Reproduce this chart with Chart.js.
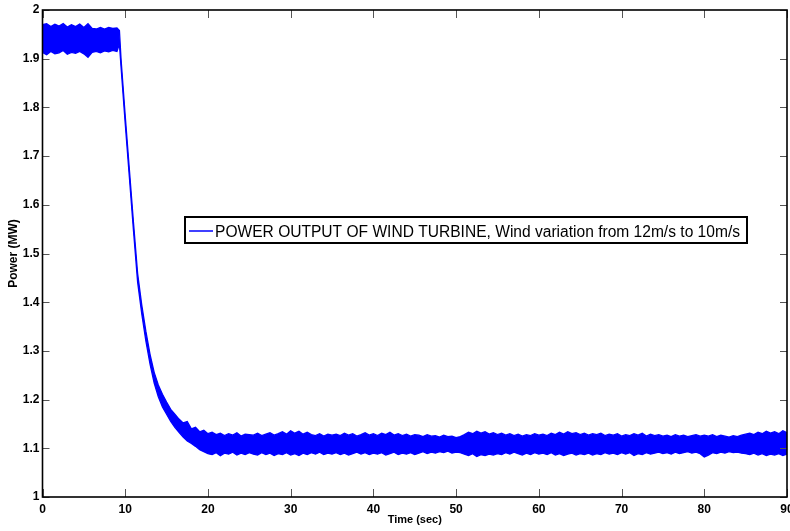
<!DOCTYPE html>
<html>
<head>
<meta charset="utf-8">
<script src="https://cdn.jsdelivr.net/npm/chart.js@4.4.0/dist/chart.umd.min.js"></script>
<style>
  body { margin: 0; background: #fff; }
  #wrap { width: 790px; height: 531px; }
</style>
</head>
<body>
<div id="wrap"><canvas id="myChart" width="790" height="531"></canvas></div>
<script>
// time points (sec)
var times = [
  0,0.5,1,1.5,2,2.5,3,3.5,4,4.5,5,5.5,6,6.5,7,7.5,8,8.5,9,9.3,9.5,
  10,10.5,11,11.5,12,12.5,13,13.5,14,14.5,15,15.5,16,16.5,17,17.5,18,18.5,19,19.5,20,
  20.5,21,21.5,22,22.5,23,23.5,24,24.5,25,
  25.5,26,26.5,27,27.5,28,28.5,29,29.5,30,
  30.5,31,31.5,32,32.5,33,33.5,34,34.5,35,
  35.5,36,36.5,37,37.5,38,38.5,39,39.5,40,
  40.5,41,41.5,42,42.5,43,43.5,44,44.5,45,
  45.5,46,46.5,47,47.5,48,48.5,49,49.5,50,
  50.5,51,51.5,52,52.5,53,53.5,54,54.5,55,
  55.5,56,56.5,57,57.5,58,58.5,59,59.5,60,
  60.5,61,61.5,62,62.5,63,63.5,64,64.5,65,
  65.5,66,66.5,67,67.5,68,68.5,69,69.5,70,
  70.5,71,71.5,72,72.5,73,73.5,74,74.5,75,
  75.5,76,76.5,77,77.5,78,78.5,79,79.5,80,
  80.5,81,81.5,82,82.5,83,83.5,84,84.5,85,
  85.5,86,86.5,87,87.5,88,88.5,89,89.5,90
];

// upper edge of the noisy power trace (MW)
var powerHigh = [
  1.970,1.972,1.966,1.971,1.967,1.972,1.965,1.970,1.966,1.971,1.964,1.972,1.962,1.961,1.964,1.961,1.964,1.962,1.963,1.958,1.898,
  1.783,1.673,1.563,1.459,1.394,1.340,1.293,1.256,1.230,1.211,1.195,1.180,1.170,1.160,1.152,1.155,1.140,1.143,1.134,1.137,1.130,
  1.133,1.128,1.131,1.126,1.130,1.127,1.132,1.125,1.129,1.128,
  1.127,1.131,1.126,1.129,1.132,1.127,1.130,1.134,1.129,1.136,
  1.131,1.135,1.129,1.133,1.128,1.126,1.130,1.125,1.129,1.127,
  1.129,1.126,1.131,1.127,1.130,1.125,1.128,1.132,1.127,1.130,
  1.126,1.131,1.128,1.133,1.127,1.130,1.126,1.129,1.125,1.128,
  1.127,1.124,1.128,1.125,1.126,1.123,1.127,1.124,1.125,1.122,
  1.124,1.128,1.133,1.130,1.135,1.131,1.134,1.129,1.132,1.128,
  1.131,1.127,1.130,1.126,1.129,1.125,1.128,1.126,1.130,1.127,
  1.129,1.126,1.131,1.128,1.133,1.129,1.134,1.130,1.132,1.128,
  1.131,1.127,1.130,1.128,1.131,1.126,1.129,1.127,1.130,1.125,
  1.128,1.126,1.130,1.127,1.131,1.125,1.129,1.126,1.128,1.125,
  1.127,1.124,1.128,1.125,1.127,1.124,1.126,1.128,1.125,1.127,
  1.125,1.128,1.124,1.127,1.125,1.123,1.126,1.124,1.127,1.129,
  1.131,1.128,1.133,1.130,1.135,1.131,1.134,1.130,1.136,1.132
];

// lower edge of the noisy power trace (MW)
var powerLow = [
  1.913,1.908,1.915,1.910,1.912,1.917,1.909,1.913,1.911,1.915,1.910,1.903,1.913,1.915,1.912,1.916,1.914,1.917,1.915,1.930,1.882,
  1.767,1.657,1.547,1.441,1.376,1.320,1.273,1.234,1.206,1.185,1.170,1.155,1.143,1.133,1.123,1.115,1.110,1.104,1.097,1.093,1.089,
  1.087,1.091,1.085,1.090,1.088,1.092,1.086,1.090,1.087,1.091,
  1.088,1.086,1.091,1.087,1.090,1.085,1.089,1.087,1.091,1.086,
  1.089,1.085,1.090,1.087,1.091,1.088,1.092,1.087,1.090,1.088,
  1.091,1.087,1.090,1.086,1.089,1.092,1.088,1.091,1.087,1.090,
  1.088,1.091,1.086,1.089,1.092,1.087,1.090,1.088,1.091,1.087,
  1.090,1.093,1.089,1.092,1.090,1.093,1.091,1.094,1.090,1.092,
  1.091,1.088,1.085,1.089,1.083,1.087,1.085,1.088,1.086,1.089,
  1.087,1.091,1.088,1.092,1.089,1.086,1.090,1.087,1.091,1.088,
  1.090,1.087,1.091,1.086,1.089,1.085,1.088,1.090,1.086,1.089,
  1.087,1.090,1.086,1.089,1.087,1.091,1.088,1.090,1.087,1.091,
  1.088,1.091,1.085,1.089,1.087,1.091,1.088,1.090,1.092,1.089,
  1.091,1.088,1.092,1.089,1.091,1.093,1.090,1.092,1.089,1.082,
  1.086,1.091,1.089,1.092,1.090,1.093,1.091,1.092,1.090,1.089,
  1.087,1.090,1.086,1.089,1.085,1.088,1.086,1.089,1.085,1.088
];

var legendText = "POWER OUTPUT OF WIND TURBINE, Wind variation from 12m/s to 10m/s";
var blue = "#0000ff";
var fontFam = "'Liberation Sans', Arial, sans-serif";

function toPoints(vals){
  return vals.map(function(v, i){ return {x: times[i], y: v}; });
}

//box round the plot with matlab style inward ticks
var boxPlugin = {
  id: 'matlabBox',
  afterDatasetsDraw: function(chart){
    var c = chart.ctx, a = chart.chartArea;
    var xs = chart.scales.x, ys = chart.scales.y;
    c.save();
    c.strokeStyle = '#555';
    c.lineWidth = 1;
    c.beginPath();
    xs.ticks.forEach(function(t){
      var px = Math.round(xs.getPixelForValue(t.value)) + 0.5;
      c.moveTo(px, a.bottom); c.lineTo(px, a.bottom - 8);
      c.moveTo(px, a.top); c.lineTo(px, a.top + 8);
    });
    ys.ticks.forEach(function(t){
      var py = Math.round(ys.getPixelForValue(t.value)) + 0.5;
      c.moveTo(a.left, py); c.lineTo(a.left + 7, py);
      c.moveTo(a.right, py); c.lineTo(a.right - 7, py);
    });
    c.stroke();
    c.strokeStyle = '#000';
    c.lineWidth = 1.6;
    c.strokeRect(a.left, a.top, a.right - a.left, a.bottom - a.top);
    c.restore();
  },
  afterDraw: function(chart){
    //legend box in the middle of the plot
    var c = chart.ctx;
    var bx = 185, by = 217, bw = 562, bh = 26;
    c.save();
    c.fillStyle = '#fff';
    c.fillRect(bx, by, bw, bh);
    c.strokeStyle = '#000';
    c.lineWidth = 2;
    c.strokeRect(bx, by, bw, bh);
    c.strokeStyle = blue;
    c.lineWidth = 1.5;
    c.beginPath();
    c.moveTo(189, 231); c.lineTo(213, 231);
    c.stroke();
    c.font = "16px " + fontFam;
    c.fillStyle = '#000';
    c.textBaseline = 'alphabetic';
    var w = c.measureText(legendText).width;
    var sx = 525 / w;
    c.translate(215, 237);
    c.scale(sx, 1);
    c.fillText(legendText, 0, 0);
    c.restore();
  }
};

var ctx = document.getElementById("myChart");
var chart = new Chart(ctx, {
  type: 'line',
  data: {
    datasets: [{
      label: 'high',
      data: toPoints(powerHigh),
      borderColor: blue,
      backgroundColor: blue,
      borderWidth: 1.3,
      fill: '+1'
    },
    {
      label: 'low',
      data: toPoints(powerLow),
      borderColor: blue,
      backgroundColor: blue,
      borderWidth: 1.3,
      fill: false
    }]
  },
  options: {
    responsive: false,
    animation: false,
    layout: { padding: { top: 10, right: 3, left: 0, bottom: 0 } },
    elements: { point: { radius: 0 }, line: { tension: 0 } },
    plugins: { legend: { display: false }, tooltip: { enabled: false } },
    scales: {
      x: {
        type: 'linear', min: 0, max: 90,
        ticks: { stepSize: 10, color: '#000', padding: 5, maxRotation: 0, autoSkip: false,
                 font: { family: fontFam, size: 12, weight: 'bold' } },
        grid: { display: false, drawTicks: false },
        border: { display: false },
        title: { display: true, text: 'Time (sec)', color: '#000',
                 font: { family: fontFam, size: 11, weight: 'bold' }, padding: { top: 0, bottom: 4 } },
        afterFit: function(s){ s.height = 34; s.paddingLeft = 0; s.paddingRight = 0; }
      },
      y: {
        min: 1, max: 2,
        ticks: { stepSize: 0.1, color: '#000', padding: 3,
                 font: { family: fontFam, size: 12, weight: 'bold' },
                 callback: function(v){ return String(Math.round(v * 10) / 10); } },
        grid: { display: false, drawTicks: false },
        border: { display: false },
        title: { display: true, text: 'Power (MW)', color: '#000',
                 font: { family: fontFam, size: 12, weight: 'bold' }, padding: { top: 6, bottom: 0 } },
        afterFit: function(s){ s.width = 42.5; s.paddingTop = 0; s.paddingBottom = 0; }
      }
    }
  },
  plugins: [boxPlugin]
});
</script>
</body>
</html>
